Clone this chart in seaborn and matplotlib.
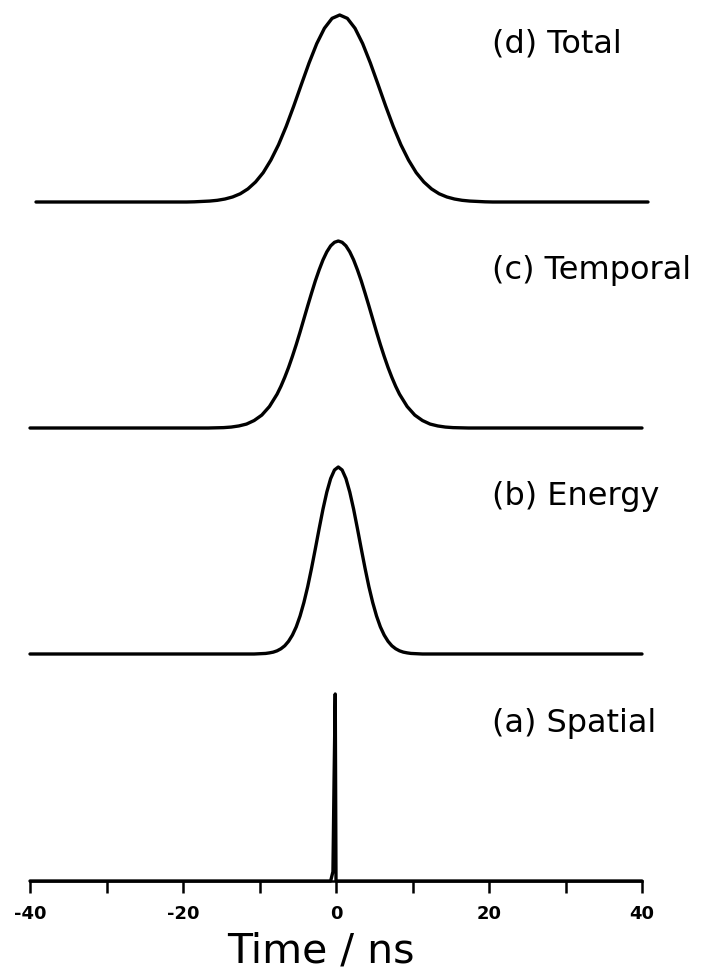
import matplotlib
matplotlib.use("Agg")
import matplotlib.pyplot as plt
import pandas as pd
import seaborn as sns

# ---------------------------------------------------------------
# Broadening contributions to the arrival-time profile (normalised)
# ---------------------------------------------------------------

# (a) Spatial: essentially instantaneous spike
spatial_t = [-40.0, -0.7, -0.4, -0.25, -0.1, 0.0, 40.0]
spatial_y = [0.0, 0.0, 0.05, 0.55, 1.0, 0.0, 0.0]

# (b) Energy
energy_t = [-40.0,
            -10.7, -10.2, -9.7, -9.2, -8.7, -8.2, -7.7, -7.2, -6.7, -6.2, -5.7,
            -5.2, -4.7, -4.2, -3.7, -3.2, -2.7, -2.2, -1.7, -1.2, -0.7, -0.2,
            0.3,
            0.8, 1.3, 1.8, 2.3, 2.8, 3.3, 3.8, 4.3, 4.8, 5.3, 5.8,
            6.3, 6.8, 7.3, 7.8, 8.3, 8.8, 9.3, 9.8, 10.3, 10.8, 11.3,
            40.0]
energy_y = [0.0,
            0.000, 0.001, 0.002, 0.003, 0.006, 0.010, 0.017, 0.028, 0.044, 0.068, 0.101,
            0.145, 0.203, 0.275, 0.360, 0.458, 0.563, 0.671, 0.775, 0.866, 0.938, 0.984,
            1.000,
            0.984, 0.938, 0.866, 0.775, 0.671, 0.563, 0.458, 0.360, 0.275, 0.203, 0.145,
            0.101, 0.068, 0.044, 0.028, 0.017, 0.010, 0.006, 0.003, 0.002, 0.001, 0.000,
            0.0]

# (c) Temporal
temporal_t = [-40.0,
              -16.7, -15.7, -14.7, -13.7, -12.7, -11.7, -10.7, -9.7, -8.7,
              -7.7, -7.2, -6.7, -6.2, -5.7, -5.2, -4.7, -4.2, -3.7, -3.2,
              -2.7, -2.2, -1.7, -1.2, -0.7, -0.2,
              0.3,
              0.8, 1.3, 1.8, 2.3, 2.8, 3.3, 3.8, 4.3, 4.8, 5.3,
              5.8, 6.3, 6.8, 7.3, 7.8, 8.3,
              9.3, 10.3, 11.3, 12.3, 13.3, 14.3, 15.3, 16.3, 17.3,
              40.0]
temporal_y = [0.0,
              0.000, 0.001, 0.002, 0.005, 0.011, 0.021, 0.040, 0.069, 0.115,
              0.181, 0.223, 0.271, 0.324, 0.383, 0.446, 0.513, 0.583, 0.653, 0.721,
              0.787, 0.846, 0.899, 0.942, 0.974, 0.993,
              1.000,
              0.993, 0.974, 0.942, 0.899, 0.846, 0.787, 0.721, 0.653, 0.583, 0.513,
              0.446, 0.383, 0.324, 0.271, 0.223, 0.181,
              0.115, 0.069, 0.040, 0.021, 0.011, 0.005, 0.002, 0.001, 0.000,
              0.0]

# (d) Total
total_t = [-40.0,
           -20.3, -19.3, -18.3, -17.3, -16.3, -15.3, -14.3, -13.3, -12.3, -11.3,
           -10.3, -9.3, -8.3, -7.3, -6.3, -5.3, -4.3, -3.3, -2.3, -1.3,
           -0.3,
           0.7, 1.7, 2.7, 3.7, 4.7, 5.7, 6.7, 7.7, 8.7, 9.7,
           10.7, 11.7, 12.7, 13.7, 14.7, 15.7, 16.7, 17.7, 18.7, 19.7,
           40.0]
total_y = [0.0,
           0.000, 0.001, 0.003, 0.005, 0.009, 0.016, 0.027, 0.044, 0.070, 0.107,
           0.157, 0.224, 0.306, 0.404, 0.514, 0.630, 0.744, 0.847, 0.929, 0.982,
           1.000,
           0.982, 0.929, 0.847, 0.744, 0.630, 0.514, 0.404, 0.306, 0.224, 0.157,
           0.107, 0.070, 0.044, 0.027, 0.016, 0.009, 0.005, 0.003, 0.001, 0.000,
           0.0]

panel_labels = ["(a) Spatial", "(b) Energy", "(c) Temporal", "(d) Total"]

major_ticks = [-40, -20, 0, 20, 40]
major_tick_labels = ["-40", "-20", "0", "20", "40"]
minor_ticks = [-30, -10, 10, 30]
x_label = "Time / ns"

# ---------------------------------------------------------------
sns.set_theme(style="white")
plt.rcParams["font.family"] = ["DejaVu Sans"]
plt.rcParams["text.color"] = "black"
plt.rcParams["axes.labelcolor"] = "black"
plt.rcParams["xtick.color"] = "black"

W, H = 720, 975
fig = plt.figure(figsize=(W / 100, H / 100), dpi=100)

# (series, label, baseline pixel row, left pixel column)
panels = [
    (spatial_t, spatial_y, panel_labels[0], 881, 30),
    (energy_t, energy_y, panel_labels[1], 654, 30),
    (temporal_t, temporal_y, panel_labels[2], 428, 30),
    (total_t, total_y, panel_labels[3], 202, 36),
]

peak_px = 187
width_px = 612

for i, (t, y, label, base, left) in enumerate(panels):
    ax = fig.add_axes([left / W, 1 - base / H, width_px / W, peak_px / H])
    df = pd.DataFrame({"t": t, "y": y})
    sns.lineplot(data=df, x="t", y="y", ax=ax, color="black",
                 linewidth=2.4, estimator=None, clip_on=False)
    ax.set_xlim(-40, 40)
    ax.set_ylim(0, 1)
    ax.set_xlabel("")
    ax.set_ylabel("")
    ax.set_yticks([])
    ax.patch.set_alpha(0)

    ax.text((492 - left) / width_px, 0.797, label, transform=ax.transAxes,
            ha="left", va="baseline", fontsize=23, color="black")

    if i == 0:
        sns.despine(ax=ax, left=True, top=True, right=True, bottom=False)
        ax.spines["bottom"].set_linewidth(1.8)
        ax.spines["bottom"].set_color("black")
        ax.set_xticks(major_ticks)
        ax.set_xticklabels(major_tick_labels, fontweight="bold", fontsize=13,
                           color="black")
        ax.set_xticks(minor_ticks, minor=True)
        ax.tick_params(axis="x", which="both", bottom=True, direction="out",
                       length=8.6, width=1.8, color="black", pad=9.0)
        ax.set_xlabel(x_label, fontsize=29.5, color="black")
        ax.xaxis.label.set_va("baseline")
        ax.xaxis.set_label_coords((321 - left) / width_px,
                                  -(963 - base) / peak_px)
    else:
        sns.despine(ax=ax, left=True, top=True, right=True, bottom=True)
        ax.set_xticks([])

fig.savefig("out.png", dpi=100, facecolor="white")
